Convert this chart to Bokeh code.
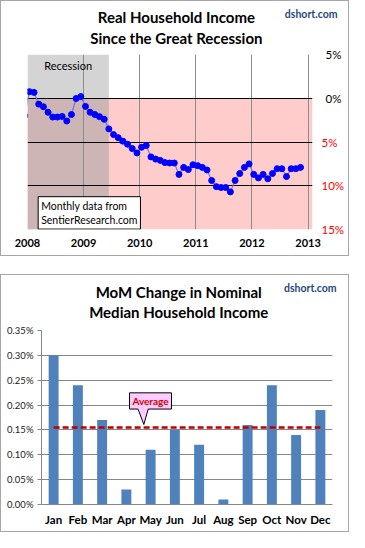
import numpy as np
from bokeh.plotting import figure
from bokeh.layouts import column
from bokeh.models import (Range1d, FixedTicker, Label, BoxAnnotation, FactorRange,
                          PrintfTickFormatter, LinearAxis, Div)
from bokeh.embed import file_html
from bokeh.resources import INLINE

FONT = "Lato"

# ---------------- Chart 1 data: real household income, % change ----------------
first_year, first_month = 2007, 12          # first value is Dec 2007 (clipped at left edge)
income_change = [
    -2.0,
    0.75, 0.67, -0.67, -0.97, -1.6, -2.15, -2.15, -2.08, -2.6, -1.86, -0.03, 0.19,
    -0.93, -1.6, -1.86, -2.1, -2.4, -3.5, -4.15, -4.5, -4.9, -5.25, -5.75, -6.25,
    -5.6, -5.4, -6.7, -6.95, -7.1, -7.35, -7.4, -7.4, -8.7, -7.9, -8.15, -7.6,
    -7.7, -7.9, -8.2, -9.4, -10.1, -10.2, -10.2, -10.7, -9.4, -8.6, -7.9, -7.5,
    -8.7, -9.1, -8.7, -9.2, -8.6, -8.05, -8.05, -8.95, -8.05, -8.05, -7.9,
]
year_ticks = [2008, 2009, 2010, 2011, 2012, 2013]
pct_ticks = [5, 0, -5, -10, -15]
recession_end = 2009.45

# ---------------- Chart 2 data: MoM change in nominal median income ----------------
months = ["Jan", "Feb", "Mar", "Apr", "May", "Jun", "Jul", "Aug", "Sep", "Oct", "Nov", "Dec"]
mom_change = [0.30, 0.24, 0.17, 0.03, 0.11, 0.15, 0.12, 0.01, 0.16, 0.24, 0.14, 0.19]
mom_ticks = [0.00, 0.05, 0.10, 0.15, 0.20, 0.25, 0.30, 0.35]

BORDER = "1px solid #a6a6a6"


def header(width, height, lines, center_x, line1_y, line_gap, dshort_right, dshort_y):
    title_w = 2 * center_x
    top = line1_y - line_gap / 2
    html = (
        f'<div style="position:relative;width:{width}px;height:{height}px;overflow:hidden;'
        f'font-family:Lato;">'
        f'<div style="position:absolute;left:0px;top:{top}px;width:{title_w}px;text-align:center;'
        f'font-weight:bold;font-size:15px;line-height:{line_gap}px;color:#000;white-space:nowrap;">'
        f'{lines[0]}<br>{lines[1]}</div>'
        f'<div style="position:absolute;right:{width - dshort_right}px;top:{dshort_y - 6.5}px;'
        f'font-weight:bold;font-size:10.5px;line-height:13px;color:#1f497d;white-space:nowrap;">'
        f'dshort.com</div></div>'
    )
    return Div(text=html, width=width, height=height, margin=0)


# ======================= Chart 1 =======================
x_start, x_end = 2008.0, 2013.08
W = 347
HD1 = 46
p1 = figure(width=W, height=208, x_range=Range1d(x_start, x_end), y_range=Range1d(-15, 5),
            output_backend="svg", toolbar_location=None, y_axis_location="right", title=None,
            min_border_left=26, min_border_right=36, min_border_top=7, min_border_bottom=26)
p1.outline_line_color = None
p1.background_fill_color = "white"
p1.border_fill_color = "white"

# shaded regions
p1.add_layout(BoxAnnotation(top=0, fill_color="#ffcccc", fill_alpha=1, line_color=None, level="image"))
p1.add_layout(BoxAnnotation(right=recession_end, bottom=0, fill_color="#d4d4d4", fill_alpha=1,
                            line_color=None, level="image"))
p1.add_layout(BoxAnnotation(right=recession_end, top=0, fill_color="#cdb5b5", fill_alpha=1,
                            line_color=None, level="image"))

p1.xgrid.ticker = FixedTicker(ticks=year_ticks)
p1.xgrid.grid_line_color = "#8c8c8c"
p1.ygrid.ticker = FixedTicker(ticks=pct_ticks)
p1.ygrid.grid_line_color = "black"

LABEL_PX = 11.5
STANDOFF = 9


def style_right_axis(ax, ticks, color, standoff):
    ax.ticker = FixedTicker(ticks=ticks)
    ax.major_label_overrides = {v: f"{abs(v)}%" for v in ticks}
    ax.major_label_text_font = FONT
    ax.major_label_text_font_size = f"{LABEL_PX}px"
    ax.major_label_text_color = color
    ax.axis_line_color = None
    ax.major_tick_line_color = None
    ax.minor_tick_line_color = None
    ax.major_tick_in = 0
    ax.major_tick_out = 0
    ax.major_label_standoff = standoff


# first right axis (next to the frame): the red negative labels
style_right_axis(p1.yaxis[0], [v for v in pct_ticks if v < 0], "#ff0000", STANDOFF)
# second right axis sits just outside the first one; pull its labels back into line
red_axis_width = STANDOFF + round(1.93 * LABEL_PX)
black_axis = LinearAxis()
style_right_axis(black_axis, [v for v in pct_ticks if v >= 0], "black",
                 STANDOFF - red_axis_width)
p1.add_layout(black_axis, "right")

xa = p1.xaxis[0]
xa.ticker = FixedTicker(ticks=year_ticks)
xa.major_label_overrides = {y: str(y) for y in year_ticks}
xa.major_label_text_font = FONT
xa.major_label_text_font_style = "bold"
xa.major_label_text_font_size = "11px"
xa.major_label_text_color = "black"
xa.axis_line_color = None
xa.major_tick_line_color = None
xa.minor_tick_line_color = None
xa.major_tick_out = 0
xa.major_label_standoff = 9

xs = [first_year + (first_month - 1 + i + 0.4) / 12 for i in range(len(income_change))]
p1.line(xs, income_change, line_color="#7373e6", line_width=1.2)
p1.scatter(xs, income_change, size=6, fill_color="#0000ff", line_color="#0000ff")

p1.add_layout(Label(x=(x_start + recession_end) / 2, y=3.8, text="Recession", text_font=FONT,
                    text_font_size="11px", text_align="center", text_baseline="middle",
                    text_color="black"))
p1.add_layout(Label(x=2008.19, y=-11.25, text="Monthly data from\nSentierResearch.com",
                    text_font=FONT, text_font_size="10.5px", text_align="left",
                    text_baseline="top", text_color="black", text_line_height=1.2,
                    background_fill_color="white", border_line_color="black",
                    border_line_width=1, padding=3))

h1 = header(W, HD1, ["Real Household Income", "Since the Great Recession"],
            175.4, 16.7, 21, 336.5, 13.5)
chart1 = column(h1, p1, spacing=0, styles={"border": BORDER})

# ======================= Chart 2 =======================
HD2 = 49
p2 = figure(width=W, height=207, x_range=FactorRange(*months), y_range=Range1d(0, 0.35),
            output_backend="svg", toolbar_location=None, title=None,
            min_border_left=40, min_border_right=16, min_border_top=6, min_border_bottom=27)
p2.outline_line_color = None
p2.border_fill_color = "white"

p2.xgrid.grid_line_color = None
p2.ygrid.ticker = FixedTicker(ticks=mom_ticks)
p2.ygrid.grid_line_color = "#868686"

ya2 = p2.yaxis[0]
ya2.ticker = FixedTicker(ticks=mom_ticks)
ya2.formatter = PrintfTickFormatter(format="%.2f%%")
ya2.major_label_text_font = FONT
ya2.major_label_text_font_size = "9.5px"
ya2.major_label_text_color = "#222222"
ya2.axis_line_color = "#868686"
ya2.major_tick_line_color = "#868686"
ya2.major_tick_out = 4
ya2.major_tick_in = 0
ya2.minor_tick_line_color = None
ya2.major_label_standoff = 4

xa2 = p2.xaxis[0]
xa2.major_label_text_font = FONT
xa2.major_label_text_font_style = "bold"
xa2.major_label_text_font_size = "11.5px"
xa2.major_label_text_color = "black"
xa2.axis_line_color = "#868686"
xa2.major_tick_line_color = None
xa2.minor_tick_line_color = None
xa2.major_tick_out = 0
xa2.major_label_standoff = 8

p2.vbar(x=months, top=mom_change, width=0.41, fill_color="#4f81bd", line_color=None)

avg = float(np.mean(mom_change))
p2.line(x=[months[0], months[-1]], y=[avg, avg], line_color="#c00000", line_width=2.5,
        line_dash="6 3")

# callout pointing at the average line (synthetic category coordinates)
tip_x, tip_y = 4.22, avg + 0.006
bx0, bx1, by0, by1 = 3.63, 5.36, avg + 0.037, avg + 0.0696
p2.patch([bx0, bx1, bx1, 4.40, tip_x, 3.98, bx0], [by1, by1, by0, by0, tip_y, by0, by0],
         fill_color="#ffccff", line_color="black", line_width=1)
p2.add_layout(Label(x=(bx0 + bx1) / 2, y=(by0 + by1) / 2, text="Average", text_font=FONT,
                    text_font_size="10px", text_font_style="bold", text_color="#cc0000",
                    text_align="center", text_baseline="middle"))

h2 = header(W, HD2, ["MoM Change in Nominal", "Median Household Income"],
            177.7, 17.1, 20.3, 335.6, 13.3)
chart2 = column(h2, p2, spacing=0, styles={"border": BORDER})

layout = column(chart1, chart2, spacing=18)
open("out.html", "w").write(file_html(layout, INLINE))
